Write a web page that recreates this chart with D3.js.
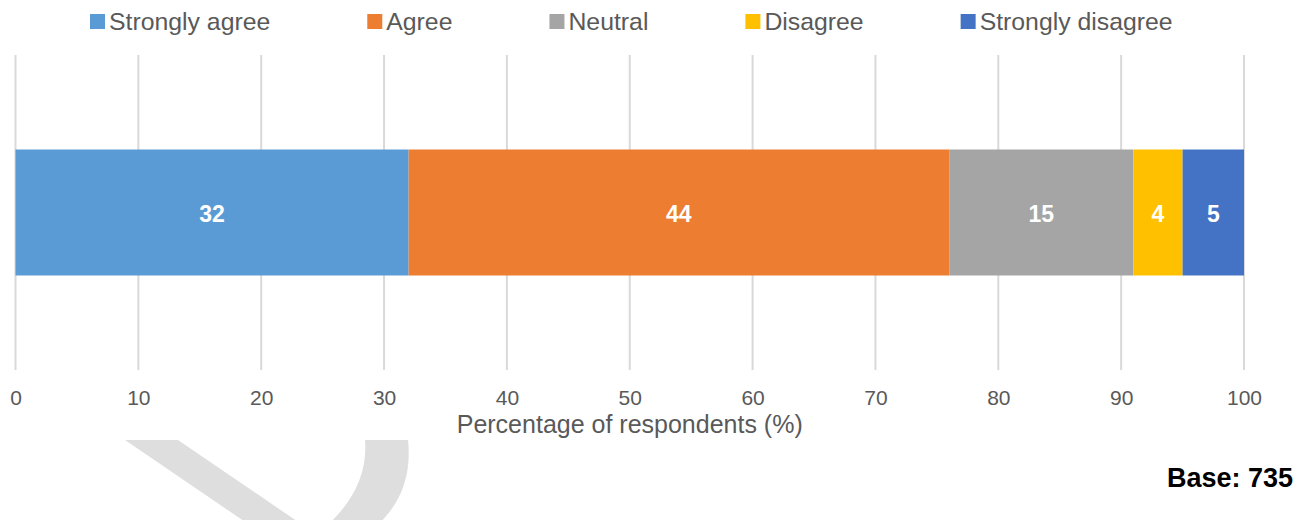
<!DOCTYPE html>
<html>
<head>
<meta charset="utf-8">
<script src="https://cdn.jsdelivr.net/npm/d3@7"></script>
<style>
  html, body { margin: 0; padding: 0; background: #fff; }
  svg { display: block; font-family: "Liberation Sans", Arial, sans-serif; }
</style>
</head>
<body>
<svg id="chart" width="1311" height="520"></svg>
<script>
// Survey responses, single stacked bar (percent of respondents)
const categories = ["Strongly agree", "Agree", "Neutral", "Disagree", "Strongly disagree"];
const values = [32, 44, 15, 4, 5];
const colors = ["#5B9BD5", "#ED7D31", "#A5A5A5", "#FFC000", "#4472C4"];
const tickValues = [0, 10, 20, 30, 40, 50, 60, 70, 80, 90, 100];
const rowLabel = ["Responses"];
const axisTitle = "Percentage of respondents (%)";
const baseNote = "Base: 735";

const svg = d3.select("#chart");

const plot = { left: 15.5, right: 1244, top: 55, bottom: 370 };

const x = d3.scaleLinear().domain([0, 100]).range([plot.left, plot.right]);
const y = d3.scaleBand().domain(rowLabel).range([plot.top, plot.bottom]).padding(0.4286);

// faint background emblem
const emblem = svg.append("g").attr("fill", "#dedede");
emblem.append("path").attr("d", "M125,440 L178,440 L310,530 L257,530 Z");
emblem.append("path").attr("d", "M365,440 L408,440 Q414,495 372,530 L322,530 Q369,490 365,440 Z");

// vertical gridlines
svg.append("g")
  .selectAll("line")
  .data(tickValues)
  .join("line")
  .attr("x1", d => x(d)).attr("x2", d => x(d))
  .attr("y1", plot.top).attr("y2", plot.bottom)
  .attr("stroke", "#d9d9d9")
  .attr("stroke-width", 2);

// stacked segments
const stacked = [];
let acc = 0;
values.forEach((v, i) => {
  stacked.push({ cat: categories[i], v, x0: acc, x1: acc + v, color: colors[i] });
  acc += v;
});

const bar = svg.append("g");
bar.selectAll("rect")
  .data(stacked)
  .join("rect")
  .attr("x", d => x(d.x0))
  .attr("width", d => x(d.x1) - x(d.x0))
  .attr("y", y(rowLabel[0]))
  .attr("height", y.bandwidth())
  .attr("fill", d => d.color);

bar.selectAll("text")
  .data(stacked)
  .join("text")
  .attr("x", d => (x(d.x0) + x(d.x1)) / 2)
  .attr("y", y(rowLabel[0]) + y.bandwidth() / 2 + 1)
  .attr("dy", "0.36em")
  .attr("text-anchor", "middle")
  .attr("fill", "#ffffff")
  .attr("font-size", 23)
  .attr("font-weight", "bold")
  .text(d => d.v);

// x axis labels
const axis = d3.axisBottom(x).tickValues(tickValues).tickSize(0).tickPadding(0);
const ax = svg.append("g")
  .attr("transform", `translate(0, ${plot.bottom})`)
  .call(axis);
ax.select(".domain").remove();
ax.selectAll("text")
  .attr("y", 0)
  .attr("dy", 35)
  .attr("font-size", 21)
  .attr("font-family", "\"Liberation Sans\", Arial, sans-serif")
  .attr("fill", "#595959");

svg.append("text")
  .attr("x", (plot.left + plot.right) / 2)
  .attr("y", 433)
  .attr("text-anchor", "middle")
  .attr("font-size", 25)
  .attr("fill", "#595959")
  .text(axisTitle);

// legend
const legend = svg.append("g");
let lx = 90;
categories.forEach((c, i) => {
  const g = legend.append("g").attr("transform", `translate(${lx}, 0)`);
  g.append("rect").attr("x", 0).attr("y", 14).attr("width", 15).attr("height", 15).attr("fill", colors[i]);
  const t = g.append("text")
    .attr("x", 19).attr("y", 30)
    .attr("font-size", 24.8)
    .attr("fill", "#595959")
    .text(c);
  lx += 19 + t.node().getComputedTextLength() + 97;
});

// sample size note
svg.append("text")
  .attr("x", 1293)
  .attr("y", 487)
  .attr("text-anchor", "end")
  .attr("font-size", 27)
  .attr("font-weight", "bold")
  .attr("fill", "#000")
  .text(baseNote);
</script>
</body>
</html>
